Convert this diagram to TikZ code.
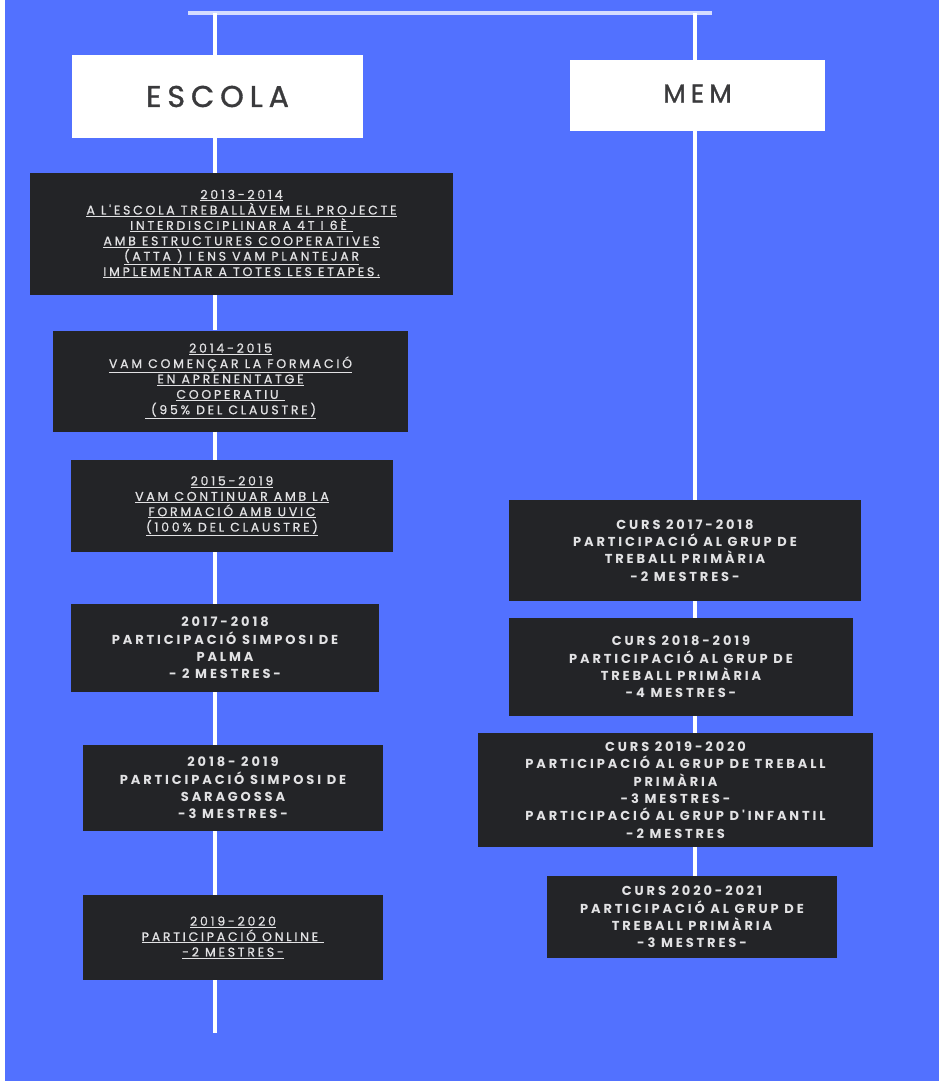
\documentclass[tikz,border=0pt]{standalone}
\usepackage{fontspec}
\setmainfont{Poppins}
\newfontfamily\headfont[LetterSpace=20,FakeBold=1.2]{Poppins}
\newfontfamily\linkfont[LetterSpace=22,FakeBold=0.8]{Poppins}
\newfontfamily\boxfont[LetterSpace=22]{Poppins}
\definecolor{bg}{HTML}{5271FF}
\definecolor{ink}{HTML}{232427}
\definecolor{txt}{HTML}{E2E2E4}
\definecolor{head}{HTML}{3A3A3C}
\definecolor{bar}{HTML}{D4DCFF}
\newcommand\lnk[1]{\underline{#1}}
\tikzset{
  headbox/.style={fill=white,inner sep=0pt,font=\headfont\fontsize{30}{30}\selectfont,text=head},
  yearbox/.style={fill=ink,inner sep=0pt,align=center,text=txt},
  linkbox/.style={yearbox,font=\linkfont\fontsize{12.5}{15.4}\selectfont},
  partbox/.style={yearbox,font=\boxfont\bfseries\fontsize{13}{17.3}\selectfont},
  stem/.style={draw=white,line width=4pt},
}

\begin{document}
\begin{tikzpicture}[x=1pt,y=-1pt]
% Background
\fill[white] (0,0) rectangle (939,1081);
\fill[bg] (5,0) rectangle (939,1081);
\useasboundingbox (0,0) rectangle (939,1081);
% Top bar and column ends
\coordinate (barL) at (188,13);
\coordinate (barR) at (712,13);
\coordinate (topL) at (215,13);
\coordinate (topR) at (695,13);
\coordinate (botL) at (215,1033);
\draw[draw=bar,line width=4pt] (barL) -- (barR);
% Headers
\node[headbox,minimum width=291,minimum height=83] (escola) at (217.5,96.5) {ESCOLA};
\node[headbox,minimum width=255,minimum height=71,font=\headfont\fontsize{26}{26}\selectfont] (mem) at (697.5,95.5) {\raisebox{4pt}{MEM}};
% Escola column
\node[linkbox,minimum width=423,minimum height=122] (e1) at (241.5,234) {\lnk{2013-2014}\\\lnk{A L'ESCOLA TREBALLÀVEM EL PROJECTE}\\\lnk{INTERDISCIPLINAR A 4T I 6È }\\\lnk{AMB ESTRUCTURES COOPERATIVES}\\\lnk{(ATTA ) I ENS VAM  PLANTEJAR}\\\lnk{IMPLEMENTAR A TOTES LES ETAPES.}};
\node[linkbox,minimum width=355,minimum height=101] (e2) at (230.5,381) {\lnk{2014-2015}\\\lnk{VAM COMENÇAR LA FORMACIÓ}\\\lnk{EN APRENENTATGE}\\\lnk{COOPERATIU }\\\lnk{ (95\% DEL CLAUSTRE)}};
\node[linkbox,minimum width=322,minimum height=92] (e3) at (232,506) {\lnk{2015-2019}\\\lnk{VAM CONTINUAR AMB LA}\\\lnk{FORMACIÓ  AMB UVIC}\\\lnk{(100\% DEL CLAUSTRE)}};
\node[partbox,minimum width=308,minimum height=88] (e4) at (225,648) {2017-2018\\PARTICIPACIÓ SIMPOSI DE\\PALMA\\- 2 MESTRES-};
\node[partbox,minimum width=300,minimum height=86] (e5) at (233,788) {2018- 2019\\PARTICIPACIÓ SIMPOSI DE\\SARAGOSSA\\-3 MESTRES-};
\node[linkbox,minimum width=300,minimum height=85] (e6) at (233,937.5) {\lnk{2019-2020}\\\lnk{PARTICIPACIÓ ONLINE }\\\lnk{-2 MESTRES-}};
% MEM column
\node[partbox,minimum width=352,minimum height=101] (m1) at (685,550.5) {CURS 2017-2018\\PARTICIPACIÓ AL GRUP DE\\TREBALL PRIMÀRIA\\-2 MESTRES-};
\node[partbox,minimum width=344,minimum height=98] (m2) at (681,667) {CURS 2018-2019\\PARTICIPACIÓ AL GRUP DE\\TREBALL PRIMÀRIA\\-4 MESTRES-};
\node[partbox,minimum width=395,minimum height=114] (m3) at (675.5,790) {CURS 2019-2020\\PARTICIPACIÓ AL GRUP DE TREBALL\\PRIMÀRIA\\-3 MESTRES-\\PARTICIPACIÓ AL GRUP D'INFANTIL\\-2 MESTRES};
\node[partbox,minimum width=290,minimum height=82] (m4) at (692,917) {CURS 2020-2021\\PARTICIPACIÓ AL GRUP DE\\TREBALL PRIMÀRIA\\-3 MESTRES-};
% Stems
\draw[stem] (topL) -- (escola.north -| topL);
\foreach \a/\b in {escola/e1,e1/e2,e2/e3,e3/e4,e4/e5,e5/e6}
  \draw[stem] (\a.south -| topL) -- (\b.north -| topL);
\draw[stem] (e6.south -| topL) -- (botL);
\draw[stem] (topR) -- (mem.north -| topR);
\foreach \a/\b in {mem/m1,m1/m2,m2/m3,m3/m4}
  \draw[stem] (\a.south -| topR) -- (\b.north -| topR);
\end{tikzpicture}
\end{document}
